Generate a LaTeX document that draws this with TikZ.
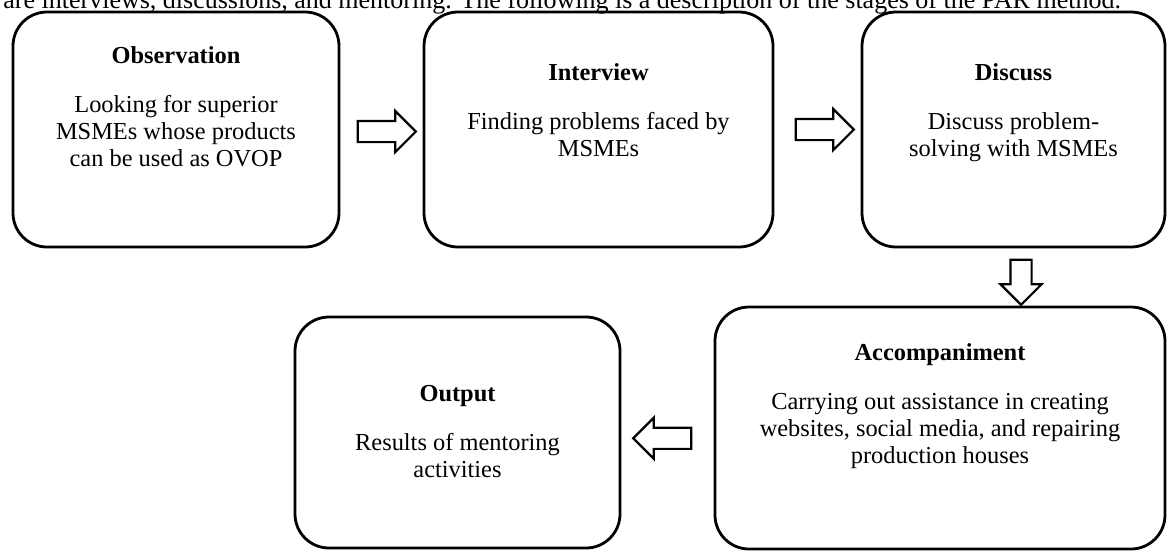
\documentclass[tikz,border=0pt]{standalone}
\usepackage{fontspec}
\setmainfont{Liberation Serif}
\usetikzlibrary{shapes.arrows,positioning,calc}

\begin{document}
\begin{tikzpicture}[
    x=0.5pt, y=-0.5pt,
    stage/.style={rectangle, draw, line width=1.4pt, rounded corners=17pt, inner sep=0pt},
    title/.style={anchor=base, font=\fontsize{12.2}{13.5}\selectfont\bfseries},
    desc/.style={anchor=base, align=center, font=\fontsize{12.2}{13.5}\selectfont},
    blockarrow/.style={single arrow, draw, line width=1.1pt, inner sep=4.75pt,
        minimum height=29pt, single arrow head extend=5pt}
]
    \useasboundingbox (0,0) rectangle (1169,553);

    % Line of the page above the figure
    \node[anchor=base west, inner sep=0pt, font=\fontsize{13}{15}\selectfont] (para) at (3,8)
        {are interviews, discussions, and mentoring. The following is a description of the stages of the PAR method.};

    % Stages
    \node[stage, minimum width=163pt, minimum height=117.5pt] (obs) at (176,129.5) {};
    \node[stage, minimum width=174.5pt, minimum height=117.5pt] (int) at (598.5,129.5) {};
    \node[stage, minimum width=151.5pt, minimum height=117.5pt] (dis) at (1013.5,129.5) {};
    \node[stage, minimum width=225pt, minimum height=121pt] (acc) at (940,428) {};
    \node[stage, minimum width=162.5pt, minimum height=115.5pt] (out) at (457.5,432.5) {};

    % Texts (desc is set on the baseline of its last line)
    \node[title] (obs-t) at ($(obs.north)+(0,53)$) {Observation};
    \node[desc] (obs-d) at ($(obs.north)+(0,156)$) {Looking for superior\\MSMEs whose products\\can be used as OVOP};
    \node[title] (int-t) at ($(int.north)+(0,70)$) {Interview};
    \node[desc] (int-d) at ($(int.north)+(0,146)$) {Finding problems faced by\\MSMEs};
    \node[title] (dis-t) at ($(dis.north)+(0,70)$) {Discuss};
    \node[desc] (dis-d) at ($(dis.north)+(0,146)$) {Discuss problem-\\solving with MSMEs};
    \node[title] (acc-t) at ($(acc.north)+(0,55)$) {Accompaniment};
    \node[desc] (acc-d) at ($(acc.north)+(0,158)$) {Carrying out assistance in creating\\websites, social media, and repairing\\production houses};
    \node[title] (out-t) at ($(out.north)+(0,86)$) {Output};
    \node[desc] (out-d) at ($(out.north)+(0,162)$) {Results of mentoring\\activities};

    % Arrows
    \node[blockarrow] (a1) at ($(obs.east)!0.5!(int.west)+(0,2)$) {};
    \node[blockarrow] (a2) at ($(int.east)!0.5!(dis.west)+(2,0)$) {};
    \node[blockarrow, shape border rotate=270, minimum height=22.5pt] (a3)
        at ($(dis.south)!0.5!(dis.south|-acc.north)+(7.5,0)$) {};
    \node[blockarrow, shape border rotate=180] (a4) at ($(out.east)!0.5!(acc.west)+(0,8)$) {};
\end{tikzpicture}
\end{document}
